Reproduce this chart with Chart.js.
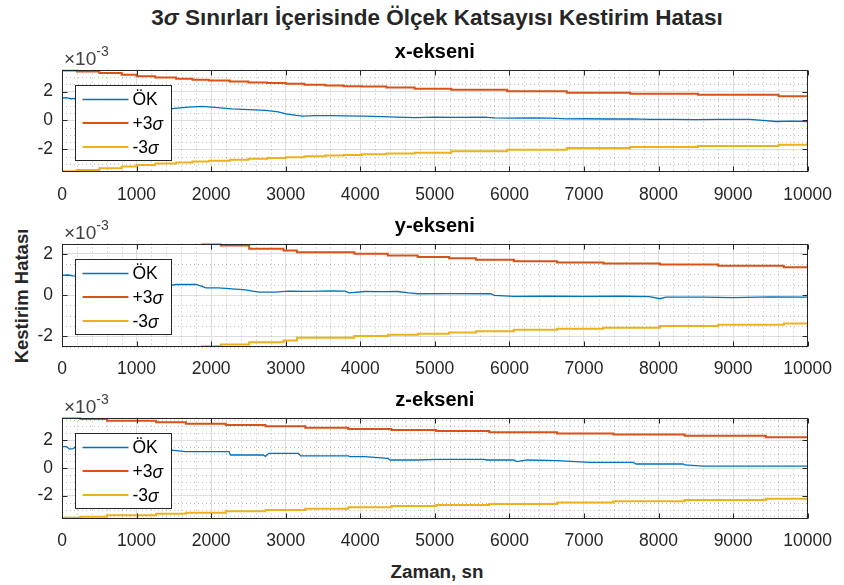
<!DOCTYPE html>
<html>
<head>
<meta charset="utf-8">
<script src="https://cdn.jsdelivr.net/npm/chart.js@4.4.1/dist/chart.umd.min.js"></script>
<style>
  body { margin: 0; background: #fff; width: 844px; height: 585px; position: relative; overflow: hidden;
         font-family: 'Liberation Sans', Arial, Helvetica, sans-serif; color: #262626; }
  canvas { position: absolute; left: 0; }
  #figTitle { position: absolute; left: 62px; width: 750px; top: 5px; text-align: center;
              font-weight: bold; font-size: 22.5px; color: #262626; }
  #yLabel { position: absolute; left: 22px; top: 296px; font-weight: bold; font-size: 18.5px; color: #262626;
            transform: translate(-50%, -50%) rotate(-90deg); white-space: nowrap; }
  #xLabel { position: absolute; left: 62px; width: 750px; top: 561px; text-align: center;
            font-weight: bold; font-size: 18.8px; color: #262626; }
</style>
</head>
<body>
<div id="figTitle">3<i>σ</i> Sınırları İçerisinde Ölçek Katsayısı Kestirim Hatası</div>
<div id="yLabel">Kestirim Hatası</div>
<div id="xLabel">Zaman, sn</div>
<canvas id="c1" width="844" height="174" style="top:30px"></canvas>
<canvas id="c2" width="844" height="174" style="top:204px"></canvas>
<canvas id="c3" width="844" height="174" style="top:378px"></canvas>
<script>
// values are in units of 1e-3 (axis shows x10^-3)
const xTicks = [0, 1000, 2000, 3000, 4000, 5000, 6000, 7000, 8000, 9000, 10000];
const yTicks = [-2, 0, 2];
const seriesLabels = ['ÖK', '+3σ', '-3σ'];
const panelTitles = ['x-ekseni', 'y-ekseni', 'z-ekseni'];

// x-ekseni
const okX_t = [0, 60, 120, 180, 400, 800, 1200, 1440, 1550, 1700, 1880, 2050, 2280, 2500, 2730, 2900, 3000, 3220, 3400, 3620, 3800, 4060, 4300, 4500, 4730, 5000, 5300, 5660, 5800, 6010, 6300, 6550, 6770, 7000, 7300, 7660, 7880, 8200, 8500, 8800, 9220, 9400, 9570, 9800, 10000];
const okX_v = [1.55, 1.58, 1.5, 1.52, 1.4, 1.2, 0.95, 0.8, 0.85, 0.92, 0.97, 0.9, 0.8, 0.75, 0.69, 0.6, 0.46, 0.3, 0.33, 0.34, 0.32, 0.3, 0.27, 0.23, 0.2, 0.23, 0.22, 0.23, 0.18, 0.16, 0.17, 0.16, 0.11, 0.12, 0.1, 0.11, 0.07, 0.08, 0.06, 0.08, 0.07, 0.0, -0.07, -0.05, -0.07];
const sigX_t = [0, 200, 500, 800, 1000, 1250, 1530, 1750, 1970, 2250, 2500, 2750, 3000, 3250, 3530, 3780, 4020, 4350, 4730, 5220, 5970, 6770, 7620, 8530, 9610, 10000];
const plusX_v = [3.45, 3.38, 3.27, 3.15, 3.05, 2.96, 2.88, 2.82, 2.76, 2.69, 2.62, 2.58, 2.53, 2.47, 2.41, 2.37, 2.34, 2.27, 2.19, 2.12, 2.02, 1.91, 1.84, 1.77, 1.68, 1.68];
const minusX_v = [-3.5, -3.42, -3.3, -3.18, -3.08, -2.98, -2.9, -2.84, -2.78, -2.71, -2.64, -2.59, -2.54, -2.48, -2.42, -2.38, -2.34, -2.28, -2.23, -2.12, -2.02, -1.91, -1.84, -1.77, -1.68, -1.68];
const yLimX = [-3.58, 3.52];

// y-ekseni
const okY_t = [0, 80, 150, 400, 800, 1200, 1440, 1530, 1800, 1930, 2100, 2280, 2460, 2640, 2860, 3040, 3300, 3600, 3800, 3850, 4060, 4300, 4500, 4650, 4770, 5200, 5750, 5800, 6060, 6500, 7000, 7500, 7880, 8020, 8100, 8600, 9000, 9500, 10000];
const okY_v = [0.95, 0.97, 0.93, 0.85, 0.72, 0.58, 0.46, 0.51, 0.51, 0.35, 0.35, 0.3, 0.25, 0.14, 0.14, 0.19, 0.18, 0.2, 0.19, 0.1, 0.17, 0.16, 0.17, 0.1, 0.06, 0.07, 0.06, -0.02, -0.07, -0.06, -0.07, -0.06, -0.08, -0.18, -0.1, -0.1, -0.13, -0.09, -0.1];
const sigY_t = [0, 500, 1000, 1500, 1880, 2130, 2510, 2970, 3150, 3920, 4370, 4770, 5190, 5550, 6060, 6640, 7260, 8020, 8800, 9680, 10000];
const plusY_v = [3.4, 3.15, 2.9, 2.7, 2.49, 2.4, 2.24, 2.16, 2.08, 2.0, 1.92, 1.84, 1.79, 1.71, 1.64, 1.58, 1.53, 1.48, 1.42, 1.35, 1.35];
const minusY_v = [-3.4, -3.15, -2.9, -2.7, -2.49, -2.4, -2.29, -2.21, -2.08, -1.99, -1.93, -1.88, -1.82, -1.76, -1.69, -1.64, -1.59, -1.51, -1.45, -1.38, -1.38];
const yLimY = [-2.5, 2.5];

// z-ekseni
const okZ_t = [0, 60, 100, 150, 170, 400, 800, 1200, 1440, 1530, 1660, 2240, 2260, 2700, 2730, 2773, 3170, 3200, 3840, 3860, 4060, 4370, 4400, 4770, 5020, 5660, 5700, 6060, 6100, 6240, 6640, 7080, 7660, 7700, 8330, 8350, 8600, 10000];
const okZ_v = [1.54, 1.55, 1.37, 1.4, 1.5, 1.45, 1.4, 1.35, 1.3, 1.25, 1.18, 1.18, 0.94, 0.94, 0.84, 1.06, 1.06, 0.87, 0.87, 0.82, 0.82, 0.7, 0.58, 0.58, 0.63, 0.63, 0.58, 0.58, 0.46, 0.58, 0.53, 0.41, 0.41, 0.29, 0.29, 0.22, 0.14, 0.14];
const sigZ_t = [0, 247, 604, 1262, 1662, 2196, 2729, 3262, 3840, 4418, 5018, 5729, 6640, 7395, 8351, 9440, 10000];
const plusZ_v = [3.64, 3.54, 3.42, 3.3, 3.2, 3.1, 3.01, 2.91, 2.82, 2.75, 2.67, 2.58, 2.5, 2.43, 2.33, 2.22, 2.22];
const minusZ_v = [-3.6, -3.52, -3.42, -3.3, -3.23, -3.13, -3.03, -2.94, -2.84, -2.75, -2.67, -2.6, -2.5, -2.41, -2.31, -2.22, -2.22];
const yLimZ = [-3.65, 3.65];

const colors = ['#0072BD', '#D95319', '#EDB120'];
const minorStepX = 200;
const minorStepY = 0.5;
const axisColor = '#262626';
const fontFam = "'Liberation Sans', Arial, Helvetica, sans-serif";

Chart.defaults.font.family = fontFam;
Chart.defaults.color = axisColor;

const pts = (t, v) => t.map((x, i) => ({ x, y: v[i] }));

const matlabAxes = {
  id: 'matlabAxes',
  beforeDatasetsDraw(chart) {
    // dotted minor grid
    const { ctx, chartArea: a, scales } = chart;
    ctx.save();
    ctx.strokeStyle = 'rgba(38,38,38,0.3)';
    ctx.lineWidth = 1;
    ctx.setLineDash([1, 3]);
    ctx.beginPath();
    for (let v = scales.x.min + minorStepX; v < scales.x.max; v += minorStepX) {
      if (v % 1000 === 0) continue;
      const px = Math.round(scales.x.getPixelForValue(v)) + 0.5;
      ctx.moveTo(px, a.top); ctx.lineTo(px, a.bottom);
    }
    for (let v = Math.ceil(scales.y.min / minorStepY) * minorStepY; v < scales.y.max; v += minorStepY) {
      if (Math.abs(v % 2) < 1e-9) continue;
      const py = Math.round(scales.y.getPixelForValue(v)) + 0.5;
      ctx.moveTo(a.left, py); ctx.lineTo(a.right, py);
    }
    ctx.stroke();
    ctx.restore();
  },
  afterDatasetsDraw(chart) {
    // box and inward ticks
    const { ctx, chartArea: a, scales } = chart;
    ctx.save();
    ctx.strokeStyle = axisColor;
    ctx.lineWidth = 1;
    const l = Math.round(a.left) + 0.5, r = Math.round(a.right) - 0.5;
    const t = Math.round(a.top) + 0.5, b = Math.round(a.bottom) - 0.5;
    ctx.strokeRect(l, t, r - l, b - t);
    ctx.beginPath();
    const tl = 5;
    xTicks.forEach(v => {
      const px = Math.round(scales.x.getPixelForValue(v)) + 0.5;
      ctx.moveTo(px, b); ctx.lineTo(px, b - tl);
      ctx.moveTo(px, t); ctx.lineTo(px, t + tl);
    });
    yTicks.forEach(v => {
      const py = Math.round(scales.y.getPixelForValue(v)) + 0.5;
      ctx.moveTo(l, py); ctx.lineTo(l + tl, py);
      ctx.moveTo(r, py); ctx.lineTo(r - tl, py);
    });
    ctx.stroke();
    ctx.restore();
  },
  afterDraw(chart) {
    const { ctx, chartArea: a } = chart;
    ctx.save();
    // exponent label
    ctx.fillStyle = '#404040';
    ctx.textBaseline = 'alphabetic';
    ctx.textAlign = 'left';
    ctx.font = '19px ' + fontFam;
    const base = '×10';
    ctx.fillText(base, a.left + 2, a.top - 4.5);
    const w = ctx.measureText(base).width;
    ctx.font = '14px ' + fontFam;
    ctx.fillText('-3', a.left + 2 + w, a.top - 14);
    // legend box
    const bx = Math.round(a.left + 13) + 0.5, by = Math.round(a.top + 15) + 0.5;
    const bw = 96, bh = 75;
    ctx.fillStyle = '#fff';
    ctx.fillRect(bx, by, bw, bh);
    ctx.strokeStyle = axisColor;
    ctx.lineWidth = 1;
    ctx.strokeRect(bx, by, bw, bh);
    const rows = [14, 37.5, 61.5];
    chart.data.datasets.forEach((ds, i) => {
      const y = by + rows[i];
      ctx.strokeStyle = ds.borderColor;
      ctx.lineWidth = ds.borderWidth;
      ctx.beginPath();
      ctx.moveTo(bx + 7, y); ctx.lineTo(bx + 53, y);
      ctx.stroke();
      ctx.fillStyle = '#000';
      ctx.textBaseline = 'middle';
      let label = ds.label, x = bx + 57;
      const sig = label.endsWith('σ');
      if (sig) label = label.slice(0, -1);
      ctx.font = '17.5px ' + fontFam;
      ctx.fillText(label, x, y + 1);
      if (sig) {
        x += ctx.measureText(label).width;
        ctx.font = 'italic 17.5px ' + fontFam;
        ctx.fillText('σ', x, y + 2);
      }
    });
    ctx.restore();
  }
};

function makePanel(id, title, okT, okV, sigT, plusV, minusV, yLim, padBottom) {
  return new Chart(document.getElementById(id), {
    type: 'line',
    data: {
      datasets: [
        { label: seriesLabels[0], data: pts(okT, okV), borderColor: colors[0], borderWidth: 1.3 },
        { label: seriesLabels[1], data: pts(sigT, plusV), borderColor: colors[1], borderWidth: 2, stepped: true },
        { label: seriesLabels[2], data: pts(sigT, minusV), borderColor: colors[2], borderWidth: 2, stepped: true }
      ]
    },
    options: {
      responsive: false,
      animation: false,
      devicePixelRatio: 1,
      parsing: false,
      elements: { point: { radius: 0 }, line: { tension: 0, fill: false } },
      layout: { padding: { left: 0, right: 32, top: 0, bottom: padBottom } },
      plugins: {
        legend: { display: false },
        tooltip: { enabled: false },
        title: {
          display: true, text: title, color: '#000', fullSize: false,
          font: { size: 20, weight: 'bold', family: fontFam, lineHeight: 1.2 },
          padding: { top: 10.5, bottom: 5 }
        }
      },
      scales: {
        x: {
          type: 'linear', min: 0, max: 10000,
          afterBuildTicks: s => { s.ticks = xTicks.map(v => ({ value: v })); },
          afterFit: s => { s.height = 30; },
          grid: { color: '#dedede', drawTicks: false },
          border: { display: false },
          ticks: { padding: 12, maxRotation: 0, autoSkip: false, font: { size: 17.5 }, color: axisColor,
                   callback: v => String(v) }
        },
        y: {
          type: 'linear', min: yLim[0], max: yLim[1],
          afterBuildTicks: s => { s.ticks = yTicks.map(v => ({ value: v })); },
          afterFit: s => { s.width = 62; },
          grid: { color: '#dedede', drawTicks: false },
          border: { display: false },
          ticks: { padding: 9, font: { size: 17.5 }, color: axisColor, callback: v => String(v) }
        }
      }
    },
    plugins: [matlabAxes]
  });
}

makePanel('c1', panelTitles[0], okX_t, okX_v, sigX_t, plusX_v, minusX_v, yLimX, 1.7);
makePanel('c2', panelTitles[1], okY_t, okY_v, sigY_t, plusY_v, minusY_v, yLimY, 1.5);
makePanel('c3', panelTitles[2], okZ_t, okZ_v, sigZ_t, plusZ_v, minusZ_v, yLimZ, 3.5);
</script>
</body>
</html>
